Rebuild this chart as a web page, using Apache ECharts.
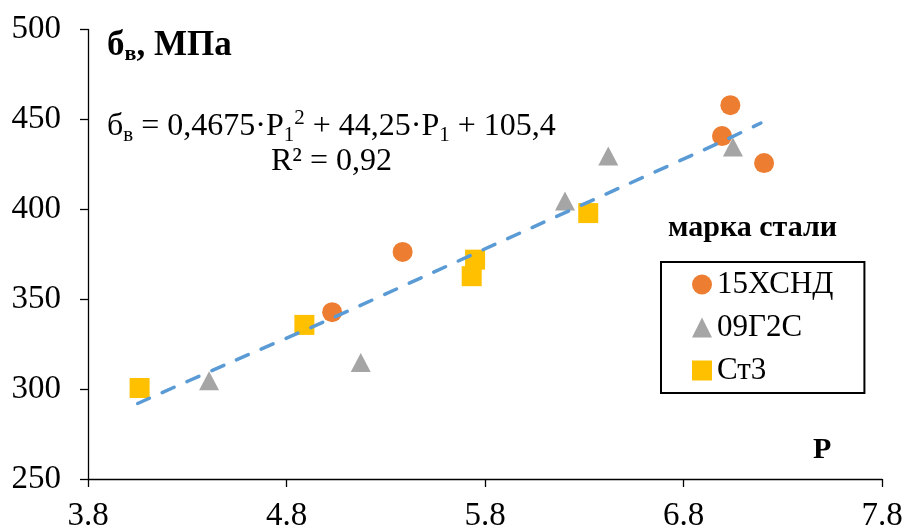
<!DOCTYPE html>
<html><head><meta charset="utf-8">
<script src="https://cdn.jsdelivr.net/npm/echarts@6/dist/echarts.min.js"></script>
<style>html,body{margin:0;padding:0;background:#fff}#c{width:903px;height:528px}</style>
</head><body><div id="c"></div>
<script>
// Data
const seriesNames = ['15ХСНД', '09Г2С', 'Ст3'];
const x15 = [5.03, 5.385, 7.036, 6.994, 7.206];
const y15 = [342.8, 376.3, 457.9, 440.7, 425.7];
const x09 = [4.41, 5.174, 6.203, 6.421, 7.049];
const y09 = [304.6, 314.8, 404.6, 429.6, 434.6];
const xCt = [4.06, 4.89, 5.733, 5.75, 6.32];
const yCt = [300.6, 335.7, 362.8, 372.0, 397.9];
const trendX = [4.05, 4.5, 5.0, 5.5, 6.0, 6.5, 7.0, 7.19];
const trendY = [292, 314, 338, 363, 388, 413, 438, 448];
const xMin = 3.8, xMax = 7.8, xStep = 1;
const yMin = 250, yMax = 500, yStep = 50;

const FF = 'Liberation Serif';
const pair = (xs, ys) => xs.map((x, i) => [x, ys[i]]);
const chart = echarts.init(document.getElementById('c'), null, {renderer: 'canvas'});
const axisCommon = {
  axisLine: {show: true, lineStyle: {color: '#000', width: 1.3}},
  axisTick: {show: true, inside: false, length: 8, lineStyle: {color: '#000', width: 1.3}},
  splitLine: {show: false},
};
const sub = {fontFamily: FF, fontSize: 21, lineHeight: 21, fontWeight: 'normal', verticalAlign: 'bottom', color: '#000'};
const sup = {fontFamily: FF, fontSize: 21, lineHeight: 21, fontWeight: 'normal', verticalAlign: 'top', color: '#000'};
const main = {fontFamily: FF, fontSize: 32, lineHeight: 38, fontWeight: 'normal', color: '#000'};
chart.setOption({
  animation: false,
  backgroundColor: '#fff',
  grid: {left: 88, right: 21, top: 29.5, bottom: 49, outerBoundsMode: 'none'},
  xAxis: Object.assign({
    type: 'value', min: xMin, max: xMax, interval: xStep,
    axisLabel: {margin: 21, fontFamily: FF, fontSize: 33, color: '#000',
      formatter: v => v.toFixed(1)}
  }, axisCommon),
  yAxis: Object.assign({
    type: 'value', min: yMin, max: yMax, interval: yStep,
    axisLabel: {margin: 27, fontFamily: FF, fontSize: 33, color: '#000'}
  }, axisCommon),
  title: [
    {left: 107, top: 27, padding: 0, text: '{a|б}{s|в}{a|, МПа}',
      textStyle: {fontWeight: 'bold', rich: {
        a: {fontFamily: FF, fontSize: 35, fontWeight: 'bold', lineHeight: 38, color: '#000'},
        s: {fontFamily: FF, fontSize: 22, fontWeight: 'bold', lineHeight: 22, verticalAlign: 'bottom', color: '#000'}
      }}},
    {left: 107, top: 108, padding: 0,
      text: '{m|б}{s|в}{m| = 0,4675·P}{s|1}{p|2}{m| + 44,25·P}{s|1}{m| + 105,4}',
      textStyle: {fontWeight: 'normal', rich: {m: main, s: sub, p: sup}}},
    {left: 271, top: 143, padding: 0, text: 'R² = 0,92',
      textStyle: {fontFamily: FF, fontSize: 32, lineHeight: 38, fontWeight: 'normal', color: '#000'}},
    {left: 668, top: 209, padding: 0, text: 'марка стали',
      textStyle: {fontFamily: FF, fontSize: 30, lineHeight: 38, fontWeight: 'bold', color: '#000'}},
    {left: 813, top: 431, padding: 0, text: 'P',
      textStyle: {fontFamily: FF, fontSize: 30, lineHeight: 38, fontWeight: 'bold', color: '#000'}}
  ],
  legend: {
    data: seriesNames, orient: 'vertical', left: 661, top: 262,
    padding: [7, 31, 7, 31], itemGap: 12, itemWidth: 20, itemHeight: 20,
    borderColor: '#000', borderWidth: 2, backgroundColor: '#fff',
    textStyle: {fontFamily: FF, fontSize: 31, lineHeight: 30, color: '#000'}
  },
  series: [
    {name: seriesNames[0], type: 'scatter', symbol: 'circle', symbolSize: 20,
      itemStyle: {color: '#ED7D31', opacity: 1}, data: pair(x15, y15), z: 2},
    {name: seriesNames[1], type: 'scatter', symbol: 'triangle', symbolSize: [20, 19],
      itemStyle: {color: '#A5A5A5', opacity: 1}, data: pair(x09, y09), z: 2},
    {name: seriesNames[2], type: 'scatter', symbol: 'rect', symbolSize: 20,
      itemStyle: {color: '#FFC000', opacity: 1}, data: pair(xCt, yCt), z: 2},
    {name: 'trend', type: 'line', smooth: 0.3, showSymbol: false, symbol: 'none',
      data: pair(trendX, trendY), z: 5,
      lineStyle: {color: '#5B9BD5', width: 3.5, type: [13, 14], cap: 'round'}}
  ]
});
</script></body></html>
